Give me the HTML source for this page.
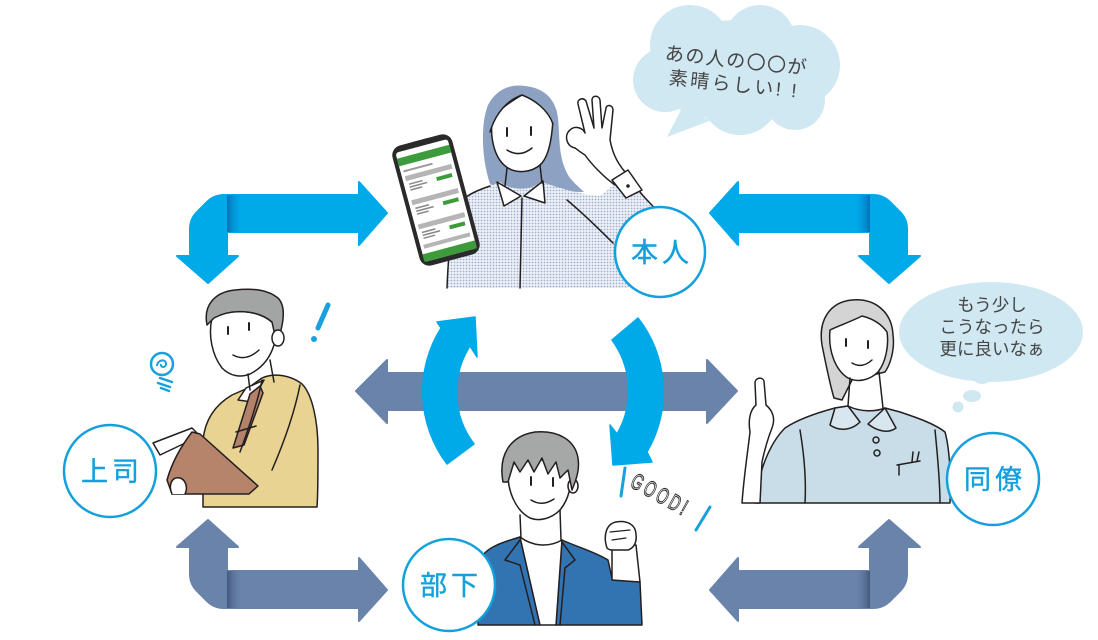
<!DOCTYPE html>
<html><head><meta charset="utf-8">
<style>
html,body{margin:0;padding:0;background:#fff;}
body{width:1098px;height:640px;overflow:hidden;}
svg{display:block;}
.t{font-family:"Liberation Sans","Noto Sans CJK JP",sans-serif;}
</style></head>
<body>
<svg width="1098" height="640" viewBox="0 0 1098 640" xmlns="http://www.w3.org/2000/svg">
<defs>
  <linearGradient id="foldB" x1="0" x2="1" y1="0" y2="0">
    <stop offset="0" stop-color="#0069b0" stop-opacity="0.9"/>
    <stop offset="1" stop-color="#00a9e8" stop-opacity="0"/>
  </linearGradient>
  <linearGradient id="foldS" x1="0" x2="1" y1="0" y2="0">
    <stop offset="0" stop-color="#3f5378" stop-opacity="0.9"/>
    <stop offset="1" stop-color="#6a83ab" stop-opacity="0"/>
  </linearGradient>
  <pattern id="dots" width="3" height="3" patternUnits="userSpaceOnUse">
    <rect width="3" height="3" fill="#eef1f7"/>
    <circle cx="1.5" cy="1.5" r="0.9" fill="#9fb1d0"/>
  </pattern>
  <g id="elbow">
    <path d="M387,213 L359,182 L359,195 L224,195 Q214,195 207,202 L197,212 Q190,219 190,229 L190,256 L177,256 L208,283 L238,256 L227,256 L227,232 L359,232 L359,245 Z" stroke-linejoin="round" stroke-width="2"/>
  </g>
</defs>

<!-- corner elbow arrows -->
<g fill="#00a9e8" stroke="#00a9e8"><use href="#elbow"/></g>
<rect x="227" y="195" width="16" height="37" fill="url(#foldB)"/>
<g transform="translate(1097,0) scale(-1,1)">
  <g fill="#00a9e8" stroke="#00a9e8"><use href="#elbow"/></g>
  <rect x="227" y="195" width="16" height="37" fill="url(#foldB)"/>
</g>
<g transform="translate(0,803) scale(1,-1)">
  <g fill="#6a83ab" stroke="#6a83ab"><use href="#elbow"/></g>
  <rect x="227" y="195" width="16" height="37" fill="url(#foldS)"/>
</g>
<g transform="translate(1097,803) scale(-1,-1)">
  <g fill="#6a83ab" stroke="#6a83ab"><use href="#elbow"/></g>
  <rect x="227" y="195" width="16" height="37" fill="url(#foldS)"/>
</g>

<!-- middle slate double arrow -->
<path d="M356,391 L387,360 L387,373 L707,373 L707,360 L737,391 L707,423 L707,410 L387,410 L387,423 Z" fill="#6a83ab" stroke="#6a83ab" stroke-width="2" stroke-linejoin="round"/>

<!-- curved blue arrows -->
<path d="M447,464 A120,120 0 0,1 441,328 L437,322 L475,317 L477,357 L470,346 A86,86 0 0,0 474,444 Z" fill="#00a9e8" stroke="#00a9e8" stroke-width="1.5" stroke-linejoin="round"/>
<path d="M638,318 A120,120 0 0,1 647,452 L652,462 L613,465 L610,425 L617,434 A86,86 0 0,0 612,340 Z" fill="#00a9e8" stroke="#00a9e8" stroke-width="1.5" stroke-linejoin="round"/>

<!-- ===== 本人 (woman with phone) ===== -->
<g stroke="#231f20" stroke-width="1.5" stroke-linejoin="round" stroke-linecap="round">
  <path d="M490,184 C482,160 480,125 488,105 C497,88 512,84 525,86 C545,88 556,100 558,118 C560,140 558,160 570,178 C575,184 580,188 584,192 L500,190 Z" fill="#8da2c3" stroke="none"/>
  <path d="M447,288 C448,262 450,235 455,212 C460,198 472,192 490,186 L500,182 C510,190 530,192 540,182 L548,184 C565,190 585,195 600,196 C606,192 612,186 618,180 L640,192 C650,205 665,215 672,232 L675,250 L650,262 C640,272 632,282 628,288 Z" fill="url(#dots)" stroke="none"/>
  <path d="M447,288 C448,262 450,235 455,212 C460,198 472,192 490,186" fill="none"/>
  <path d="M640,192 C650,205 665,215 672,232" fill="none"/>
  <path d="M567,200 C585,215 600,230 613,243" fill="none"/>
  <path d="M497,182 L504,206 L521,196 Z" fill="#fff"/>
  <path d="M543,181 L545,203 L524,196 Z" fill="#fff"/>
  <path d="M522,198 L520,288" fill="none"/>
  <path d="M492,120 C490,140 495,160 508,168 C518,174 532,172 540,165 C548,158 552,140 553,118 C545,105 533,98 522,95 C510,102 498,110 492,120 Z" fill="#fff"/>
  <path d="M522,95 C535,100 548,110 553,124 L557,112 C552,96 538,87 522,87 Z" fill="#8da2c3" stroke="none"/>
  <path d="M522,95 C508,100 496,112 490,132 L487,120 C490,100 505,89 522,87 Z" fill="#8da2c3" stroke="none"/>
  <path d="M522,95 C535,100 548,110 553,124 M522,95 C508,100 496,112 490,132" fill="none"/>
  <path d="M507,168 L505,186 M540,165 L542,183" fill="none"/>
  <path d="M507,128 L507,136 M531,127 L531,135" fill="none" stroke-width="2"/>
  <path d="M507,150 Q520,158 532,148" fill="none"/>
  <path d="M575,148 C566,146 564,135 570,130 C575,125 583,128 585,133 L578,104 C577,99 583,97 586,101 L594,128 L592,100 C592,95 599,95 600,100 L602,128 L606,108 C607,104 613,105 613,110 L610,140 C612,150 615,160 625,172 L615,185 C605,178 592,165 585,155 C580,152 578,150 575,148 Z" fill="#fff"/>
  <path d="M612,180 L628,170 L642,190 L626,198 Z" fill="#fff"/>
  <circle cx="628" cy="186" r="1.8" fill="#231f20" stroke="none"/>
</g>
<!-- phone -->
<g transform="translate(436,200) rotate(-15)">
  <rect x="-31" y="-62" width="62" height="124" rx="10" fill="#2a2a2a"/>
  <rect x="-27" y="-56" width="54" height="113" rx="3" fill="#fff"/>
  <rect x="-10" y="-62" width="20" height="5" rx="2" fill="#2a2a2a"/>
  <rect x="-27" y="-50" width="54" height="8" fill="#3d9b3c"/>
  <rect x="-24" y="-37" width="30" height="2" fill="#9a9a9a"/>
  <g fill="#b5b5b5">
    <rect x="-24" y="-31" width="48" height="5"/>
    <rect x="-24" y="-6" width="48" height="5"/>
    <rect x="-24" y="19" width="48" height="5"/>
    <rect x="-24" y="40" width="48" height="4"/>
  </g>
  <g fill="#888">
    <rect x="-22" y="-23" width="14" height="1.5"/><rect x="-22" y="-20" width="18" height="1.5"/><rect x="-22" y="-17" width="12" height="1.5"/>
    <rect x="-22" y="2" width="14" height="1.5"/><rect x="-22" y="5" width="18" height="1.5"/><rect x="-22" y="8" width="12" height="1.5"/>
    <rect x="-22" y="27" width="14" height="1.5"/><rect x="-22" y="30" width="18" height="1.5"/><rect x="-22" y="33" width="12" height="1.5"/>
  </g>
  <g fill="#3d9b3c">
    <rect x="6" y="-22" width="16" height="4"/>
    <rect x="6" y="3" width="16" height="4"/>
    <rect x="6" y="28" width="16" height="4"/>
  </g>
  <rect x="-27" y="49" width="54" height="8" fill="#3d9b3c"/>
</g>

<!-- ===== 上司 (boss) ===== -->
<g stroke="#231f20" stroke-width="1.5" stroke-linejoin="round" stroke-linecap="round">
  <path d="M203,507 L203,440 C205,420 215,405 232,395 L248,388 L262,378 C275,372 292,376 302,384 C312,394 318,420 318,450 C318,475 318,495 317,507 Z" fill="#e8d393"/>
  <path d="M246,388 L238,400 L252,402 L264,380 Z" fill="#fff"/>
  <path d="M250,394 L260,386 L263,393 L244,445 L233,448 Z" fill="#b4826a"/>
  <path d="M262,380 C258,400 250,425 240,452 M300,385 C295,410 285,440 272,470" fill="none"/>
  <path d="M236,432 L256,426" fill="none"/>
  <path d="M153,443 L192,428 L200,436 L160,455 Z" fill="#fff"/>
  <path d="M167,480 C172,462 182,445 192,432 L200,434 L258,486 L249,494 L172,494 Z" fill="#b6836b"/>
  <path d="M172,494 C168,485 172,476 180,478 C186,480 188,488 185,494" fill="#fff"/>
  <path d="M212,318 C208,335 212,355 222,368 C230,376 240,378 250,374 C262,368 270,358 274,345 L278,330 C270,315 250,310 232,312 C222,312 215,315 212,318 Z" fill="#fff"/>
  <path d="M207,325 C203,305 215,292 235,290 C255,288 268,290 278,298 C285,305 284,318 281,330 L277,345 L272,322 C258,310 232,308 214,318 Z" fill="#a3a5a4"/>
  <ellipse cx="278" cy="338" rx="6" ry="8" fill="#fff"/>
  <path d="M228,327 L228,334 M249,323 L249,330" fill="none" stroke-width="2"/>
  <path d="M233,355 Q246,362 259,350" fill="none"/>
  <path d="M248,374 L250,390 M270,360 L274,382" fill="none"/>
</g>
<circle cx="162" cy="364" r="11" fill="#fff" stroke="#1aa0dc" stroke-width="2.5"/>
<path d="M157,366 C157,360 166,358 166,364 C166,368 160,368 161,364" fill="none" stroke="#1aa0dc" stroke-width="2"/>
<path d="M160,378 L172,382 M158,383 L170,387 M161,388 L169,391" stroke="#1aa0dc" stroke-width="2.5" stroke-linecap="round"/>
<path d="M328,305 L318,328" stroke="#1aa0dc" stroke-width="5" stroke-linecap="round"/>
<circle cx="314" cy="339" r="3" fill="#1aa0dc"/>

<!-- ===== 部下 (subordinate) ===== -->
<g stroke="#231f20" stroke-width="1.5" stroke-linejoin="round" stroke-linecap="round">
  <path d="M478,625 L480,560 C485,548 500,543 520,537 L540,625 Z" fill="#3274b1"/>
  <path d="M556,625 L562,540 C580,548 595,552 608,560 L612,578 L640,582 L642,625 Z" fill="#3274b1"/>
  <path d="M520,537 L540,625 L556,625 L562,540 C548,548 532,546 520,537 Z" fill="#fff"/>
  <path d="M520,540 L505,560 L520,565 L535,625 M562,542 L575,560 L565,568 L560,625" fill="none"/>
  <path d="M612,580 L612,545 L636,545 L640,582 Z" fill="#fff"/>
  <path d="M607,548 C603,536 606,524 616,522 C626,520 636,524 636,535 C637,542 634,548 628,550 L612,550 C610,550 608,549 607,548 Z" fill="#fff"/>
  <path d="M610,532 L630,530 M612,540 L626,538" fill="none" stroke-width="1.2"/>
  <path d="M508,470 C507,490 515,510 530,518 C540,522 552,518 560,510 C568,500 572,488 570,470 C560,460 540,458 525,462 C515,462 510,465 508,470 Z" fill="#fff"/>
  <ellipse cx="573" cy="486" rx="5" ry="7" fill="#fff"/>
  <path d="M503,482 C498,455 510,436 535,432 C558,430 575,440 578,458 C580,470 576,480 572,490 L568,470 L560,478 L556,462 L548,474 L542,458 L534,472 L528,460 L520,472 L514,462 L508,482 Z" fill="#a6a8a7"/>
  <path d="M531,477 L531,485 M553,478 L553,486" fill="none" stroke-width="2"/>
  <path d="M531,500 Q542,507 554,499" fill="none"/>
  <path d="M520,515 L521,538 M560,510 L561,540" fill="none"/>
</g>
<text class="t" transform="translate(629,486) rotate(29) scale(0.8,1.25)" font-size="18" letter-spacing="4" fill="#fff" stroke="#333" stroke-width="0.9">GOOD!</text>
<path d="M625,468 L621,496" stroke="#1aa0dc" stroke-width="3" stroke-linecap="round"/>
<path d="M710,507 L696,530" stroke="#1aa0dc" stroke-width="3" stroke-linecap="round"/>

<!-- ===== 同僚 (colleague) ===== -->
<g stroke="#231f20" stroke-width="1.5" stroke-linejoin="round" stroke-linecap="round">
  <path d="M755,503 C758,475 768,445 785,428 C800,418 820,412 835,408 L848,406 C860,412 875,412 885,408 L900,412 C918,418 935,424 945,432 C950,450 951,480 950,503 Z" fill="#c9dde8"/>
  <path d="M835,408 L830,425 C840,432 852,430 860,422 L848,406 Z" fill="#d8e7ef"/>
  <path d="M885,408 L896,428 C888,434 877,431 868,424 Z" fill="#d8e7ef"/>
  <circle cx="876" cy="440" r="3" fill="none"/>
  <circle cx="877" cy="453" r="3" fill="none"/>
  <path d="M897,465 L920,461 M899,465 L899,475 M912,462 L913,452 M917,461 L919,452" fill="none"/>
  <path d="M800,430 C805,460 806,485 805,503 M935,430 C938,460 940,485 940,503" fill="none"/>
  <path d="M742,503 C744,475 748,450 750,432 C748,420 750,410 756,405 L755,383 C755,378 762,376 764,381 L766,405 C772,410 776,418 772,428 C768,438 765,448 762,462 L760,503 Z" fill="#fff"/>
  <path d="M822,345 C818,320 830,302 852,300 C875,298 892,312 893,335 C895,350 890,365 885,372 L852,380 L842,400 L834,398 C830,385 826,365 822,345 Z" fill="#d4d4d4"/>
  <path d="M830,330 C828,350 835,370 848,378 C858,383 870,380 878,372 C886,362 889,345 887,332 C880,322 870,318 862,316 C850,322 838,326 830,330 Z" fill="#fff"/>
  <path d="M846,339 L846,346 M868,341 L868,348" fill="none" stroke-width="2"/>
  <path d="M852,363 Q862,369 872,360" fill="none"/>
  <path d="M850,378 L848,406 M879,372 L883,408" fill="none"/>
</g>

<!-- ===== speech bubble 1 (cloud) ===== -->
<g fill="#d0e8f2">
  <circle cx="690" cy="45" r="40"/>
  <circle cx="760" cy="40" r="35"/>
  <circle cx="800" cy="65" r="40"/>
  <circle cx="665" cy="80" r="32"/>
  <circle cx="740" cy="95" r="40"/>
  <circle cx="795" cy="100" r="30"/>
  <ellipse cx="738" cy="70" rx="95" ry="50"/>
  <polygon points="682,108 667,137 712,120"/>
</g>
<g class="t" fill="#444" font-size="19" text-anchor="middle" transform="rotate(6 735 75)">
  <text x="735" y="67" letter-spacing="1.5">あの人の〇〇が</text>
  <text x="735" y="91" letter-spacing="2.5">素晴らしい! !</text>
</g>

<!-- ===== speech bubble 2 (thought) ===== -->
<g fill="#d0e8f2">
  <ellipse cx="991" cy="332" rx="92" ry="50"/>
  <circle cx="982" cy="372" r="12"/>
  <ellipse cx="972" cy="396" rx="9" ry="6"/>
  <circle cx="958" cy="407" r="5.5"/>
</g>
<g class="t" fill="#444" font-size="17.5" text-anchor="middle">
  <text x="992" y="311">もう少し</text>
  <text x="992" y="333">こうなったら</text>
  <text x="992" y="355">更に良いなぁ</text>
</g>

<!-- ===== label circles ===== -->
<g fill="#fff" stroke="#14a0dc" stroke-width="2.5">
  <circle cx="660" cy="252" r="45"/>
  <circle cx="110" cy="471" r="46"/>
  <circle cx="449" cy="585" r="46"/>
  <circle cx="993" cy="479" r="46"/>
</g>
<g class="t" fill="#14a0dc" stroke="#14a0dc" stroke-width="0.4" font-size="27" font-weight="400" text-anchor="middle" letter-spacing="4">
  <text x="662" y="262">本人</text>
  <text x="112" y="481">上司</text>
  <text x="451" y="595">部下</text>
  <text x="995" y="489">同僚</text>
</g>
</svg>
</body></html>
